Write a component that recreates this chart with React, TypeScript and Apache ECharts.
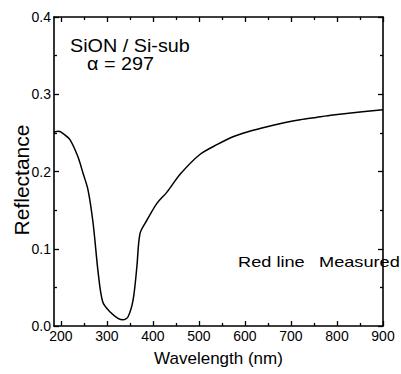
import React, { useEffect, useRef } from "react";
import * as echarts from "echarts";

const wavelengths = [185, 195, 205, 220, 237, 248, 259, 270, 281, 291, 307, 324, 335, 346, 357, 365, 372, 387, 409, 430, 460, 502, 540, 574, 610, 648, 685, 720, 755, 791, 850, 900];
const reflectance = [0.251, 0.252, 0.249, 0.241, 0.219, 0.198, 0.176, 0.133, 0.069, 0.031, 0.018, 0.010, 0.008, 0.012, 0.034, 0.076, 0.12, 0.137, 0.159, 0.173, 0.197, 0.222, 0.235, 0.245, 0.252, 0.258, 0.263, 0.267, 0.270, 0.273, 0.277, 0.280];
const xMajorTicks = [200, 300, 400, 500, 600, 700, 800, 900];
const xMinorTicks = [250, 350, 450, 550, 650, 750, 850];

const FONT = "Liberation Sans, Arial, sans-serif";

export default function App() {
  const ref = useRef<HTMLDivElement>(null);
  useEffect(() => {
    if (!ref.current) return;
    const chart = echarts.init(ref.current, null, { renderer: "svg" });
    const axisLine = { show: true, lineStyle: { color: "#000", width: 1.6 } };
    const tickStyle = { color: "#000", width: 1.3 };
    const xBase = { type: "value", min: 185, max: 900, splitLine: { show: false } };
    const yBase = {
      type: "value", min: 0, max: 0.4, interval: 0.1, splitLine: { show: false },
      minorTick: { show: true, splitNumber: 2, length: 3, lineStyle: tickStyle },
    };
    chart.setOption({
      animation: false,
      backgroundColor: "#fff",
      grid: { left: 54, top: 17, right: 18, bottom: 48, containLabel: false, outerBoundsMode: "none" },
      xAxis: [
        {
          ...xBase, position: "bottom", axisLine,
          axisTick: { show: true, inside: true, length: 5, customValues: xMajorTicks, lineStyle: tickStyle },
          axisLabel: { customValues: xMajorTicks, color: "#000", fontSize: 14, fontFamily: FONT, margin: 3 },
          name: "Wavelength (nm)", nameLocation: "middle", nameGap: 24,
          nameTextStyle: { color: "#000", fontSize: 17, fontFamily: FONT },
        },
        {
          ...xBase, position: "bottom", axisLine: { show: false },
          axisTick: { show: true, inside: true, length: 3, customValues: xMinorTicks, lineStyle: tickStyle },
          axisLabel: { show: false },
        },
        {
          ...xBase, position: "top", axisLine,
          axisTick: { show: true, inside: true, length: 5, customValues: xMajorTicks, lineStyle: tickStyle },
          axisLabel: { show: false },
        },
        {
          ...xBase, position: "top", axisLine: { show: false },
          axisTick: { show: true, inside: true, length: 3, customValues: xMinorTicks, lineStyle: tickStyle },
          axisLabel: { show: false },
        },
      ],
      yAxis: [
        {
          ...yBase, position: "left", axisLine,
          axisTick: { show: true, inside: true, length: 5, lineStyle: tickStyle },
          axisLabel: { color: "#000", fontSize: 14, fontFamily: FONT, margin: 3, formatter: (v: number) => v.toFixed(1) },
        },
        {
          ...yBase, position: "right", axisLine,
          axisTick: { show: true, inside: true, length: 5, lineStyle: tickStyle },
          axisLabel: { show: false },
        },
      ],
      series: [
        {
          type: "line",
          xAxisIndex: 0,
          yAxisIndex: 0,
          data: wavelengths.map((w, i) => [w, reflectance[i]]),
          smooth: 0.3,
          showSymbol: false,
          lineStyle: { color: "#000", width: 1.5 },
        },
      ],
      graphic: [
        {
          type: "text", x: 21, y: 180, rotation: Math.PI / 2,
          style: { text: "Reflectance", fontSize: 21, fontFamily: FONT, fill: "#000", align: "center", verticalAlign: "middle" },
        },
        {
          type: "text", x: 70, y: 37, scaleX: 1.1,
          style: { text: "SiON / Si-sub", fontSize: 18, fontFamily: FONT, fill: "#000" },
        },
        {
          type: "text", x: 87, y: 55, scaleX: 1.1,
          style: { text: "α = 297", fontSize: 18, fontFamily: FONT, fill: "#000" },
        },
        { type: "text", x: 238, y: 255, scaleX: 1.3, style: { text: "Red line", fontSize: 14, fontFamily: FONT, fill: "#000" } },
        { type: "text", x: 319, y: 255, scaleX: 1.3, style: { text: "Measured", fontSize: 14, fontFamily: FONT, fill: "#000" } },
      ],
    });
    return () => chart.dispose();
  }, []);
  return <div ref={ref} style={{ width: 401, height: 374, position: "absolute", left: 0, top: 0 }} />;
}
